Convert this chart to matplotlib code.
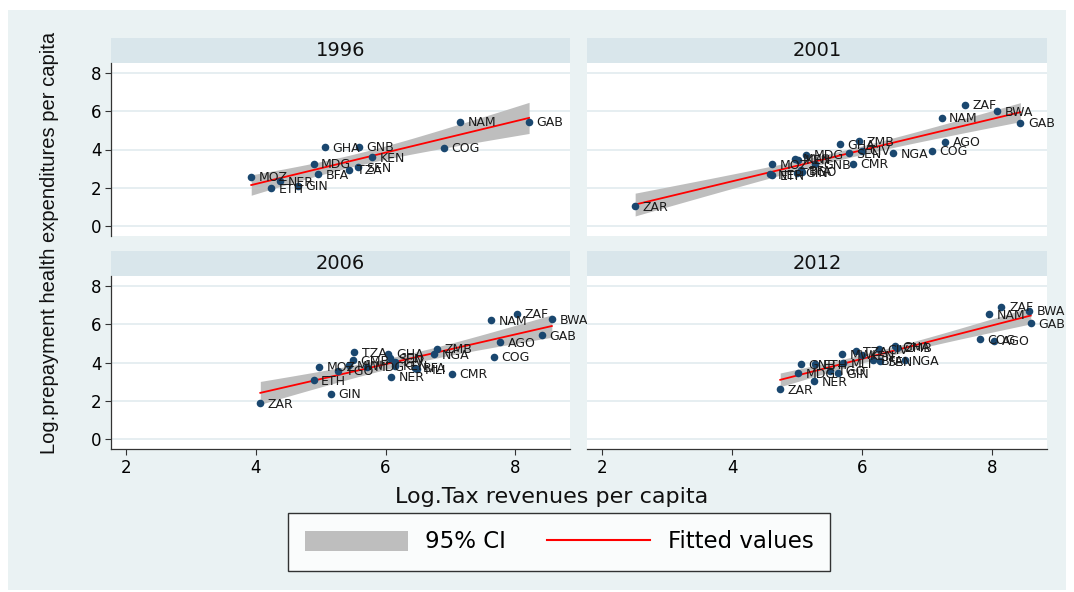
"""
Log prepayment health expenditures vs log tax revenues per capita,
by year, with linear fit and 95% CI (Stata s2color look).
"""
import numpy as np
import matplotlib
matplotlib.use("Agg")
import matplotlib.pyplot as plt
from matplotlib.patches import Rectangle, Patch
from matplotlib.lines import Line2D

# ---- data ----------------------------------------------------------------
years = ["1996", "2001", "2006", "2012"]

codes_1996 = ["MOZ", "ETH", "NER", "GIN", "BFA", "MDG", "GHA", "GNB", "TZA",
              "SEN", "KEN", "COG", "NAM", "GAB"]
tax_1996 = [3.93, 4.24, 4.37, 4.65, 4.96, 4.89, 5.06, 5.59, 5.44,
            5.58, 5.79, 6.90, 7.15, 8.21]
hexp_1996 = [2.56, 1.95, 2.32, 2.09, 2.70, 3.26, 4.13, 4.15, 2.93,
             3.07, 3.58, 4.10, 5.46, 5.46]

codes_2001 = ["ZAR", "NER", "ETH", "MOZ", "GIN", "BFA", "TGO", "MWI", "KEN",
              "MDG", "GNB", "GHA", "SEN", "ZMB", "CIV", "CMR", "NGA", "COG",
              "AGO", "NAM", "ZAF", "BWA", "GAB"]
tax_2001 = [2.51, 4.58, 4.62, 4.61, 5.00, 5.06, 5.07, 4.97, 5.02,
            5.14, 5.28, 5.66, 5.79, 5.95, 5.99, 5.86, 6.47, 7.07,
            7.27, 7.22, 7.58, 8.07, 8.43]
hexp_2001 = [1.01, 2.70, 2.64, 3.23, 2.79, 2.90, 2.83, 3.51, 3.46,
             3.72, 3.23, 4.29, 3.79, 4.45, 3.94, 3.26, 3.79, 3.94,
             4.41, 5.67, 6.35, 6.02, 5.41]

codes_2006 = ["ZAR", "GIN", "ETH", "MOZ", "TGO", "MWI", "TZA", "GMB", "MDG",
              "GHA", "SEN", "CIV", "KEN", "BFA", "MLI", "NER", "ZMB", "NGA",
              "CMR", "COG", "AGO", "NAM", "ZAF", "BWA", "GAB"]
tax_2006 = [4.07, 5.16, 4.89, 4.97, 5.27, 5.43, 5.52, 5.49, 5.71,
            6.04, 6.07, 6.15, 6.15, 6.46, 6.48, 6.08, 6.79, 6.74,
            7.02, 7.67, 7.76, 7.62, 8.02, 8.56, 8.41]
hexp_2006 = [1.86, 2.35, 3.06, 3.78, 3.57, 3.87, 4.55, 4.12, 3.78,
             4.47, 4.22, 4.01, 3.83, 3.73, 3.64, 3.25, 4.73, 4.43,
             3.41, 4.31, 5.08, 6.21, 6.56, 6.28, 5.43]

codes_2012 = ["ZAR", "NER", "MDG", "GNB", "ETH", "MLI", "TGO", "GIN", "MWI",
              "TZA", "KEN", "BFA", "SEN", "CIV", "GHA", "ZMB", "NGA", "COG",
              "AGO", "NAM", "ZAF", "BWA", "GAB"]
tax_2012 = [4.74, 5.26, 5.01, 5.06, 5.27, 5.71, 5.51, 5.63, 5.69,
            5.90, 6.00, 6.17, 6.27, 6.26, 6.50, 6.53, 6.65, 7.81,
            8.03, 7.95, 8.14, 8.56, 8.59]
hexp_2012 = [2.60, 3.02, 3.43, 3.90, 3.90, 3.96, 3.57, 3.43, 4.43,
             4.61, 4.40, 4.13, 4.08, 4.71, 4.87, 4.78, 4.13, 5.22,
             5.15, 6.54, 6.94, 6.73, 6.08]

panels = [(codes_1996, tax_1996, hexp_1996), (codes_2001, tax_2001, hexp_2001),
          (codes_2006, tax_2006, hexp_2006), (codes_2012, tax_2012, hexp_2012)]

x_ticks = [2, 4, 6, 8]
y_ticks = [0, 2, 4, 6, 8]

# ---- style -----------------------------------------------------------------
BG = "#EAF2F3"
STRIP = "#D9E6EB"
GRID = "#E4EDF0"
NAVY = "#1A476F"
CI_GRAY = "#BEBEBE"
FONT = "DejaVu Sans"
plt.rcParams["font.family"] = FONT

W, H = 1074, 592


def box(l, t, r, b):
    return [l / W, 1 - b / H, (r - l) / W, (b - t) / H]


def tcrit(df):
    # Cornish-Fisher approximation of the 97.5% t quantile
    z = 1.959964
    return z + (z**3 + z) / (4 * df) + (5 * z**5 + 16 * z**3 + 3 * z) / (96 * df**2)


def lfitci(x, y, n=100):
    x = np.asarray(x); y = np.asarray(y)
    b, a = np.polyfit(x, y, 1)
    res = y - (a + b * x)
    df = len(x) - 2
    s = np.sqrt((res**2).sum() / df)
    xs = np.linspace(x.min(), x.max(), n)
    se = s * np.sqrt(1 / len(x) + (xs - x.mean())**2 / ((x - x.mean())**2).sum())
    fit = a + b * xs
    t = tcrit(df)
    return xs, fit, fit - t * se, fit + t * se


fig = plt.figure(figsize=(W / 100, H / 100), dpi=100)
fig.patch.set_facecolor("white")
fig.patches.append(Rectangle((8 / W, 2 / H), 1058 / W, 580 / H,
                             transform=fig.transFigure, facecolor=BG,
                             edgecolor="none", zorder=-10))

rects = [(111, 63, 570, 236), (587, 63, 1047, 236),
         (111, 276, 570, 449), (587, 276, 1047, 449)]
strip_h = 25

for i, ((codes, xv, yv), r, yr) in enumerate(zip(panels, rects, years)):
    ax = fig.add_axes(box(*r))
    ax.set_facecolor("white")
    ax.set_xlim(1.77, 8.84)
    ax.set_ylim(-0.55, 8.55)
    ax.set_yticks(y_ticks)
    ax.set_xticks(x_ticks)
    ax.grid(axis="y", color=GRID, lw=1.3)
    ax.set_axisbelow(True)
    for sp in ax.spines.values():
        sp.set_visible(False)
    left = i % 2 == 0
    bottom = i >= 2
    ax.tick_params(axis="y", left=left, labelleft=left, length=4, width=0.8,
                   labelsize=12, pad=3, color="#333333")
    ax.tick_params(axis="x", bottom=bottom, labelbottom=bottom, length=4,
                   width=0.8, labelsize=12, pad=3, color="#333333")
    if left:
        ax.spines["left"].set_visible(True)
        ax.spines["left"].set_color("#333333")
        ax.spines["left"].set_linewidth(0.9)
    if bottom:
        ax.spines["bottom"].set_visible(True)
        ax.spines["bottom"].set_color("#333333")
        ax.spines["bottom"].set_linewidth(0.9)

    xs, fit, lo, hi = lfitci(xv, yv)
    ax.fill_between(xs, lo, hi, color=CI_GRAY, lw=0, zorder=2)
    ax.plot(xs, fit, color="red", lw=1.3, zorder=3)
    ax.scatter(xv, yv, s=30, color=NAVY, lw=0, zorder=4)
    for c, xx, yy in zip(codes, xv, yv):
        ax.annotate(c, (xx, yy), xytext=(5.5, -0.8), textcoords="offset points",
                    fontsize=9, color="#1a1a1a", va="center", ha="left",
                    zorder=5, annotation_clip=False)

    # header strip
    hfrac = strip_h / (r[3] - r[1])
    ax.add_patch(Rectangle((0, 1), 1, hfrac, transform=ax.transAxes,
                           facecolor=STRIP, edgecolor="none", clip_on=False))
    ax.text(0.5, 1 + hfrac / 2, yr, transform=ax.transAxes, ha="center",
            va="center", fontsize=14, color="#111111")

fig.text(552 / W, 1 - 497 / H, "Log.Tax revenues per capita", ha="center",
         va="center", fontsize=16, color="#111111")
fig.text(50 / W, 1 - 243 / H, "Log.prepayment health expenditures per capita",
         ha="center", va="center", rotation=90, fontsize=14.5,
         family="Liberation Sans", color="#111111")

handles = [Patch(facecolor=CI_GRAY, edgecolor="none", label="95% CI"),
           Line2D([], [], color="red", lw=1.5, label="Fitted values")]
leg = fig.legend(handles=handles, loc="center", ncol=2,
                 bbox_to_anchor=(559 / W, 1 - 542 / H), fontsize=16.5,
                 frameon=True, fancybox=False, edgecolor="black",
                 handlelength=4.5, handleheight=0.95, handletextpad=0.75,
                 columnspacing=1.8, borderpad=0.75, borderaxespad=0)
leg.get_frame().set_linewidth(1.0)
leg.get_frame().set_facecolor("white")

fig.savefig("out.png", dpi=100)
